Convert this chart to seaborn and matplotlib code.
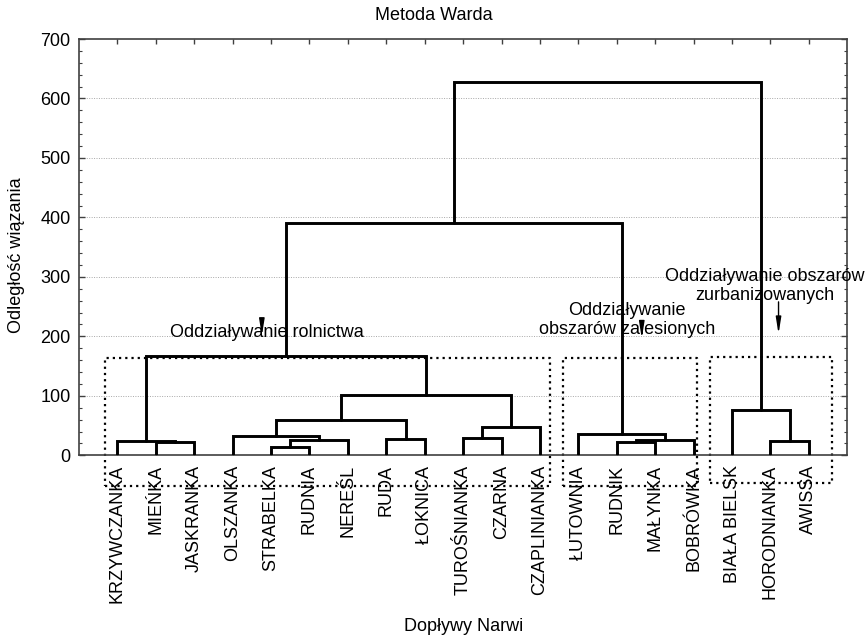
import matplotlib
matplotlib.use('Agg')
import matplotlib.pyplot as plt
import seaborn as sns
import pandas as pd
from matplotlib.ticker import MultipleLocator

# ---------------- data ----------------
leaves = ['KRZYWCZANKA', 'MIEŃKA', 'JASKRANKA', 'OLSZANKA', 'STRABELKA', 'RUDNIA',
          'NEREŚL', 'RUDA', 'ŁOKNICA', 'TUROŚNIANKA', 'CZARNA', 'CZAPLINIANKA',
          'ŁUTOWNIA', 'RUDNIK', 'MAŁYNKA', 'BOBRÓWKA', 'BIAŁA BIELSK',
          'HORODNIANKA', 'AWISSA']
# linkage (ids < 19 are leaves, id 19+k is the k-th merge)
merge_a = [1, 0, 4, 21, 3, 7, 23, 9, 26, 25, 20, 13, 30, 12, 17, 16, 29, 35]
merge_b = [2, 19, 5, 6, 22, 8, 24, 10, 11, 27, 28, 14, 15, 31, 18, 33, 32, 34]
merge_h = [21.8, 24.0, 14.0, 25.2, 32.0, 27.0, 59.3, 29.6, 48.0, 101.0, 167.0,
           21.8, 25.2, 35.8, 24.0, 75.6, 390.0, 627.0]

title = 'Metoda Warda'
xlabel = 'Dopływy Narwi'
ylabel = 'Odległość wiązania'
ann_labels = ['Oddziaływanie rolnictwa',
              'Oddziaływanie\nobszarów zalesionych',
              'Oddziaływanie obszarów\nzurbanizowanych']

# ---------------- build dendrogram segments ----------------
n = len(leaves)
node_x = {i: i + 1 for i in range(n)}
node_y = {i: 0.0 for i in range(n)}
rows = []
for k, (a, b, h) in enumerate(zip(merge_a, merge_b, merge_h)):
    xa, ya, xb, yb = node_x[a], node_y[a], node_x[b], node_y[b]
    for px, py in [(xa, ya), (xa, h), (xb, h), (xb, yb)]:
        rows.append({'seg': k, 'x': px, 'y': py})
    node_x[n + k] = (xa + xb) / 2
    node_y[n + k] = h
df = pd.DataFrame(rows)

# ---------------- plot ----------------
sns.set_style('white')
plt.rcParams['font.family'] = ['Liberation Sans', 'DejaVu Sans']
plt.rcParams['font.size'] = 13
plt.rcParams['text.color'] = 'black'
plt.rcParams['axes.labelcolor'] = 'black'

fig = plt.figure(figsize=(8.67, 6.4), dpi=100)
ax = fig.add_axes([79 / 867, 1 - 455.3 / 640, 768.3 / 867, 416.3 / 640])

for y in range(100, 700, 100):
    ax.axhline(y, color='#a8a8a8', lw=0.7, ls=(0, (1, 1.5)), zorder=0)

sns.lineplot(data=df, x='x', y='y', units='seg', estimator=None, sort=False,
             color='black', lw=2.1, ax=ax, solid_joinstyle='miter', zorder=3)

ax.set_xlim(0, n + 1)
ax.set_ylim(0, 700)
ax.set_xticks(range(1, n + 1))
ax.set_xticklabels(leaves, rotation=90, fontsize=13)
ax.yaxis.set_major_locator(MultipleLocator(100))
ax.yaxis.set_minor_locator(MultipleLocator(20))
ax.tick_params(axis='x', which='major', direction='in', length=3.5, width=1,
               top=True, bottom=True, pad=7, labelsize=13, colors='#404040',
               labelcolor='black')
ax.tick_params(axis='y', which='major', direction='in', length=4, width=1,
               left=True, right=True, pad=6, labelsize=13, colors='#404040',
               labelcolor='black')
ax.tick_params(axis='y', which='minor', direction='in', length=2.5, width=0.8,
               left=True, right=True, colors='#404040')
for s in ax.spines.values():
    s.set_color('#404040')
    s.set_linewidth(1.2)

ax.set_xlabel(xlabel, fontsize=13, color='black')
ax.xaxis.set_label_coords(0.5, -0.412)
ax.xaxis.label.set_va('center')
ax.set_ylabel(ylabel, fontsize=13, color='black')
ax.yaxis.set_label_coords(-0.0807, 0.481)
ax.yaxis.label.set_va('center')
fig.text(0.5, 1 - 16 / 640, title, ha='center', va='center', fontsize=13,
         color='black')

# dotted group boxes
box_style = dict(color='black', lw=1.6, ls=(0, (1, 1.8)), clip_on=False, zorder=2)
for x0, x1, y0, y1 in [(0.68, 12.27, -51.5, 163.5),
                       (12.6, 16.1, -51.5, 163.5),
                       (16.43, 19.6, -47.0, 164.5)]:
    ax.plot([x0, x1, x1, x0, x0], [y0, y0, y1, y1, y0], **box_style)

# annotations
ann_pos = [(4.89, 206.0), (14.27, 227.4), (17.84, 284.5)]
arrows = [(4.76, 230.0, 201.0), (14.65, 224.5, 196.5), (18.21, 258.0, 204.0)]
for (tx, ty), lab in zip(ann_pos, ann_labels):
    ax.text(tx, ty, lab, ha='center', va='center', fontsize=13, color='black',
            multialignment='center', linespacing=1.2, zorder=4, clip_on=False)
for ax_x, y0, y1 in arrows:
    ax.annotate('', xy=(ax_x, y1), xytext=(ax_x, y0),
                arrowprops=dict(arrowstyle='-|>,head_length=0.75,head_width=0.12',
                                color='black', lw=1, shrinkA=0, shrinkB=0),
                zorder=5)

fig.savefig('out.png', dpi=100)
